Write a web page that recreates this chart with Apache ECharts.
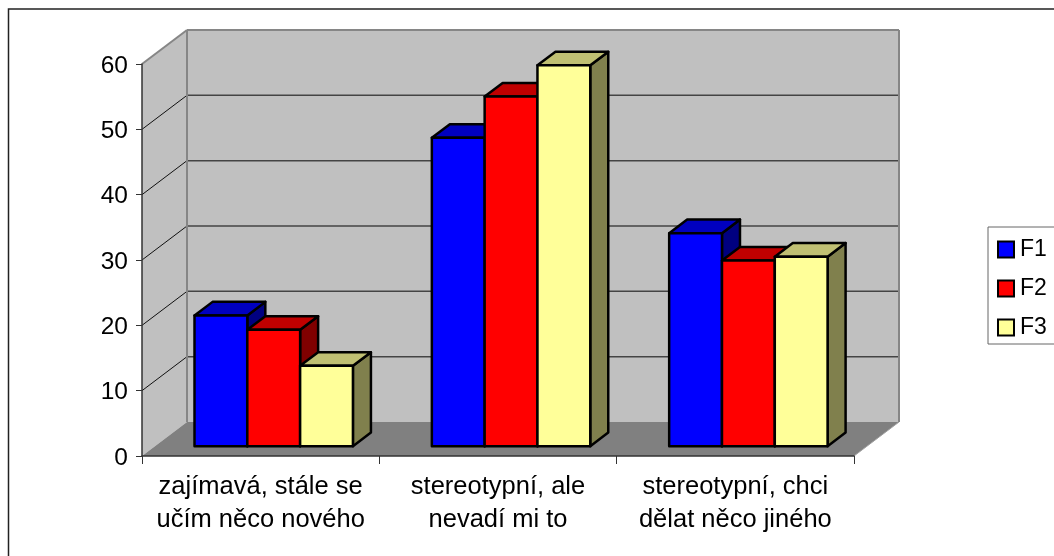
<!DOCTYPE html>
<html>
<head>
<meta charset="utf-8">
<style>html,body{margin:0;padding:0;background:#fff}#chart{width:1054px;height:556px}</style>
<script src="https://cdn.jsdelivr.net/npm/echarts@6/dist/echarts.min.js"></script>
</head>
<body>
<div id="chart"></div>
<script>
// Survey answers per group, as percentages
const categories = ['zajímavá, stále se\nučím něco nového', 'stereotypní, ale\nnevadí mi to', 'stereotypní, chci\ndělat něco jiného'];
const f1 = [20, 47.2, 32.6];
const f2 = [17.8, 53.5, 28.4];
const f3 = [12.3, 58.3, 29];
const yTicks = [0, 10, 20, 30, 40, 50, 60];

// Oblique projection of the box: full depth in pixels
const depthX = 45, depthY = -34;
// Bars occupy this span of the depth
const barDepthFront = 0.29, barDepthBack = 0.69;
const barShare = 0.2225;

const shift = (p, f) => [p[0] + depthX * f, p[1] + depthY * f];

function renderBox(params, api) {
  const cs = params.coordSys;
  const x0 = cs.x, y0 = cs.y, x1 = cs.x + cs.width, y1 = cs.y + cs.height;
  const children = [];
  const poly = (points, style) => ({ type: 'polygon', shape: { points }, style });
  const line = (a, b, stroke, lineWidth) => ({
    type: 'line', shape: { x1: a[0], y1: a[1], x2: b[0], y2: b[1] }, style: { stroke, lineWidth }
  });
  const bl = [x0, y1], br = [x1, y1], tl = [x0, y0];
  // side wall, floor, back wall
  children.push(poly([bl, tl, shift(tl, 1), shift(bl, 1)], { fill: '#c0c0c0' }));
  children.push(poly([bl, br, shift(br, 1), shift(bl, 1)], { fill: '#808080' }));
  children.push(poly([shift(bl, 1), shift(br, 1), shift([x1, y0], 1), shift(tl, 1)], { fill: '#c0c0c0' }));
  // gridlines run along the side wall and across the back wall
  yTicks.slice(1, -1).forEach(t => {
    const y = api.coord([0, t])[1];
    children.push(line([x0, y], shift([x0, y], 1), '#111', 1));
    children.push(line(shift([x0, y], 1), shift([x1, y], 1), '#444', 1.5));
  });
  // wall edges
  const edge = '#868686';
  children.push(line(shift(tl, 1), shift([x1, y0], 1), edge, 2));
  children.push(line(shift([x1, y0], 1), shift(br, 1), edge, 2));
  children.push(line(shift(tl, 1), shift(bl, 1), edge, 2));
  children.push(line(tl, shift(tl, 1), edge, 2));
  children.push(line(br, shift(br, 1), '#a0a0a0', 1));
  return { type: 'group', children };
}

function barRenderer(offset, front, top, side) {
  return function (params, api) {
    const band = api.size([1, 0])[0];
    const w = band * barShare;
    const c = api.coord([api.value(0), api.value(1)]);
    const base = api.coord([api.value(0), 0]);
    const xl = c[0] + (offset - 0.5) * w, xr = xl + w;
    const tlF = shift([xl, c[1]], barDepthFront), trF = shift([xr, c[1]], barDepthFront);
    const brF = shift([xr, base[1]], barDepthFront), blF = shift([xl, base[1]], barDepthFront);
    const tlB = shift([xl, c[1]], barDepthBack), trB = shift([xr, c[1]], barDepthBack);
    const brB = shift([xr, base[1]], barDepthBack);
    const stroke = { stroke: '#000', lineWidth: 2.5, lineJoin: 'round' };
    return {
      type: 'group',
      children: [
        { type: 'polygon', shape: { points: [trF, brF, brB, trB] }, style: { fill: side, ...stroke } },
        { type: 'polygon', shape: { points: [tlF, trF, trB, tlB] }, style: { fill: top, ...stroke } },
        { type: 'polygon', shape: { points: [tlF, trF, brF, blF] }, style: { fill: front, ...stroke } }
      ]
    };
  };
}

const points = values => values.map((v, i) => [i, v]);
const font = 'Liberation Sans';

const chart = echarts.init(document.getElementById('chart'), null, { renderer: 'canvas' });
chart.setOption({
  animation: false,
  backgroundColor: '#fff',
  graphic: [{
    type: 'rect', silent: true, z: -1,
    shape: { x: 8.5, y: 9, width: 1060, height: 600 },
    style: { fill: '#fff', stroke: '#222', lineWidth: 1.5 }
  }],
  grid: { left: 142, top: 64, width: 712, height: 392 },
  xAxis: {
    type: 'category',
    data: categories,
    z: 1,
    axisLine: { lineStyle: { color: '#333', width: 1.5 } },
    axisTick: { show: true, alignWithLabel: false, length: 8, lineStyle: { color: '#333', width: 1 } },
    axisLabel: { color: '#000', fontFamily: font, fontSize: 25.5, lineHeight: 33, margin: 14, interval: 0 }
  },
  yAxis: {
    type: 'value', min: 0, max: 60, interval: 10,
    splitLine: { show: false },
    axisLine: { show: true, lineStyle: { color: '#333', width: 1.5 } },
    axisTick: { show: true, length: 6, lineStyle: { color: '#333', width: 1 } },
    axisLabel: {
      margin: 14,
      formatter: '{v|{value}}',
      rich: { v: { color: '#000', fontFamily: font, fontSize: 24.5, padding: [4, 0, 0, 0] } }
    }
  },
  legend: {
    orient: 'vertical',
    left: 988, top: 227,
    padding: [11, 40, 5, 9],
    itemWidth: 16, itemHeight: 16, itemGap: 16,
    icon: 'rect',
    borderColor: '#666', borderWidth: 1,
    backgroundColor: '#fff',
    data: ['F1', 'F2', 'F3'],
    selectedMode: false,
    textStyle: { color: '#000', fontFamily: font, fontSize: 23, padding: [0, 0, 0, 1] }
  },
  series: [
    { type: 'custom', name: 'box', coordinateSystem: 'cartesian2d', data: [[0, 0]], z: 0, silent: true,
      renderItem: renderBox, encode: { x: 0, y: 1 }, clip: false },
    { type: 'custom', name: 'F1', data: points(f1), z: 2, encode: { x: 0, y: 1 },
      renderItem: barRenderer(-1, '#0000ff', '#0000c0', '#000080'),
      itemStyle: { color: '#0000ff', borderColor: '#000', borderWidth: 2.5 } },
    { type: 'custom', name: 'F2', data: points(f2), z: 3, encode: { x: 0, y: 1 },
      renderItem: barRenderer(0, '#ff0000', '#c00000', '#800000'),
      itemStyle: { color: '#ff0000', borderColor: '#000', borderWidth: 2.5 } },
    { type: 'custom', name: 'F3', data: points(f3), z: 4, encode: { x: 0, y: 1 },
      renderItem: barRenderer(1, '#ffff99', '#c0c073', '#80804d'),
      itemStyle: { color: '#ffff99', borderColor: '#000', borderWidth: 2.5 } }
  ]
});
</script>
</body>
</html>
